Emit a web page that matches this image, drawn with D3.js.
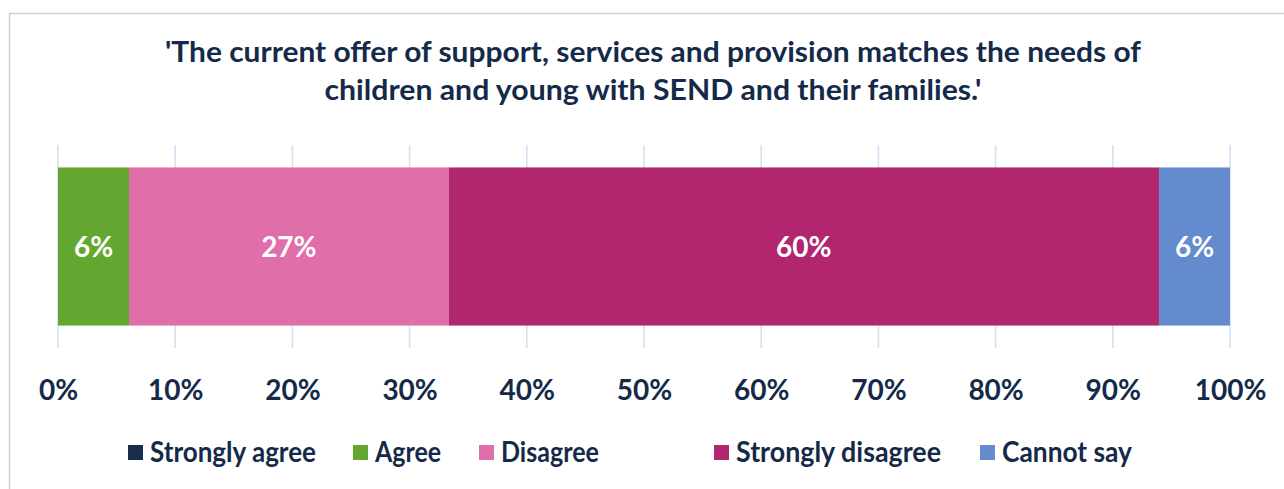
<!DOCTYPE html>
<html>
<head>
<meta charset="utf-8">
<script src="https://cdn.jsdelivr.net/npm/d3@7"></script>
<style>
  html, body { margin: 0; padding: 0; background: #fff; }
  svg { display: block; }
  text { font-family: Lato, "Open Sans", sans-serif; font-weight: 700; }
</style>
</head>
<body>
<svg id="chart" width="1284" height="489"></svg>
<script>
// Survey responses (percent), one stacked bar
const categories = ["Strongly agree", "Agree", "Disagree", "Strongly disagree", "Cannot say"];
const values = [0, 6, 27, 60, 6];
const colors = ["#1a2c4c", "#63a731", "#e06ea9", "#b2256f", "#648bcd"];
const tickValues = [0, 0.1, 0.2, 0.3, 0.4, 0.5, 0.6, 0.7, 0.8, 0.9, 1.0];
const titleLines = [
  "'The current offer of support, services and provision matches the needs of",
  "children and young with SEND and their families.'"
];

const W = 1284, H = 489;
const ink = "#152a48";
const svg = d3.select("#chart");

// outer chart frame
svg.append("rect")
  .attr("x", 9.5).attr("y", 13.5)
  .attr("width", W + 10).attr("height", H + 10)
  .attr("fill", "#fff").attr("stroke", "#cfcfcf").attr("stroke-width", 1.5);

const x = d3.scaleLinear().domain([0, 1]).range([58, 1230]);
const band = d3.scaleBand().domain(["q"]).range([145, 348]).paddingInner(0).paddingOuter(0.142);

// title
const tw = [976, 657];
titleLines.forEach((t, i) => {
  svg.append("text")
    .attr("x", 653).attr("y", 62 + i * 38)
    .attr("text-anchor", "middle")
    .attr("font-size", 28).attr("fill", ink)
    .attr("textLength", tw[i]).attr("lengthAdjust", "spacingAndGlyphs")
    .text(t);
});

// vertical gridlines
svg.append("g").selectAll("line").data(tickValues).join("line")
  .attr("x1", d => x(d)).attr("x2", d => x(d))
  .attr("y1", 145).attr("y2", 348)
  .attr("stroke", "#d3e2f3").attr("stroke-width", 1.6);

// stacked segments (normalised to 100%)
const row = {};
categories.forEach((c, i) => row[c] = values[i]);
const stack = d3.stack().keys(categories).offset(d3.stackOffsetExpand);
const series = stack([row]);

const g = svg.append("g");
series.forEach((s, i) => {
  const d = s[0];
  if (d[1] - d[0] <= 0) return;
  g.append("rect")
    .attr("x", x(d[0])).attr("y", band("q"))
    .attr("width", x(d[1]) - x(d[0])).attr("height", band.bandwidth())
    .attr("fill", colors[i]);
  g.append("text")
    .attr("x", (x(d[0]) + x(d[1])) / 2)
    .attr("y", band("q") + band.bandwidth() / 2 + 10)
    .attr("text-anchor", "middle")
    .attr("font-size", 28).attr("fill", "#fff")
    .text(values[i] + "%");
});

// x axis labels
const axis = d3.axisBottom(x).tickValues(tickValues)
  .tickFormat(d3.format(".0%")).tickSize(0).tickPadding(0);
const ax = svg.append("g").attr("transform", "translate(0,380)").call(axis);
ax.select(".domain").remove();
ax.selectAll("text")
  .attr("dy", null).attr("y", 20)
  .attr("font-size", 28).attr("fill", ink)
  .style("font-family", "Lato, sans-serif").style("font-weight", 700);

// legend
const legX = [128, 353, 479, 714, 980];
const legW = [166, 66, 98, 205, 130];
const leg = svg.append("g").selectAll("g").data(categories).join("g")
  .attr("transform", (d, i) => `translate(${legX[i]},0)`);
leg.append("rect")
  .attr("x", 0).attr("y", 445).attr("width", 15).attr("height", 15)
  .attr("fill", (d, i) => colors[i]);
leg.append("text")
  .attr("x", 22).attr("y", 462)
  .attr("font-size", 29).attr("fill", ink)
  .attr("textLength", (d, i) => legW[i]).attr("lengthAdjust", "spacingAndGlyphs")
  .text(d => d);
</script>
</body>
</html>
